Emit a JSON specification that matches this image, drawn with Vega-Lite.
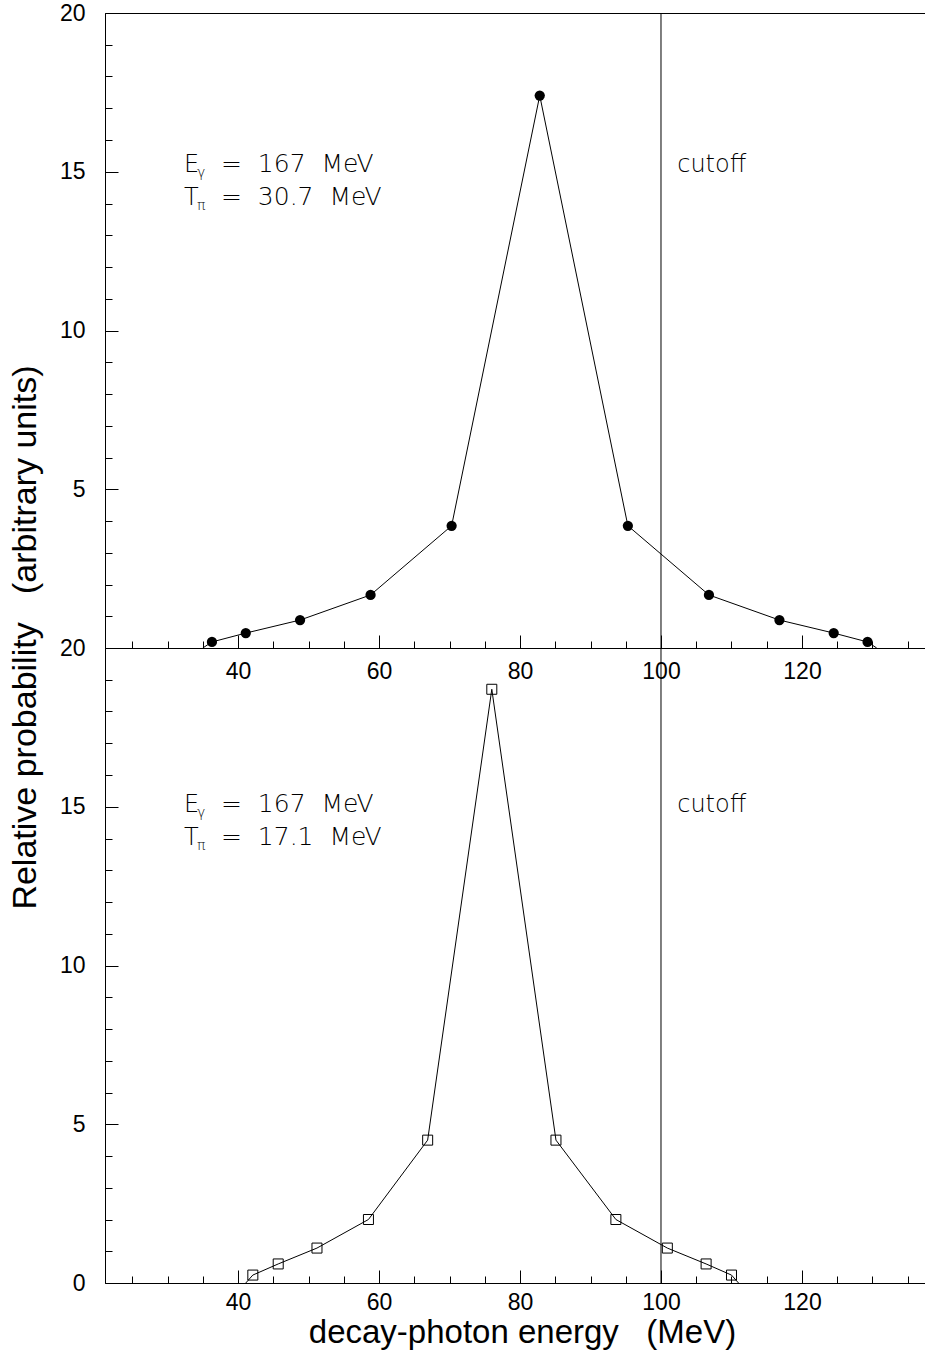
{
  "$schema": "https://vega.github.io/schema/vega-lite/v6.json",
  "padding": {"left": 8, "top": 2, "right": 0, "bottom": 5},
  "spacing": 0,
  "bounds": "flush",
  "background": "white",
  "config": {
    "view": {"stroke": null},
    "axis": {
      "grid": false,
      "domainColor": "black",
      "tickColor": "black",
      "labelColor": "black",
      "titleColor": "black",
      "labelFont": "Liberation Sans",
      "titleFont": "Liberation Sans",
      "labelFontSize": 23,
      "titleFontSize": 33,
      "titleFontWeight": "normal",
      "domainWidth": 1,
      "tickWidth": 1,
      "labelFlush": false,
      "labelOverlap": false
    }
  },
  "datasets": {
    "top": [
      {"energy": 35.0, "prob": 0, "kind": "end"},
      {"energy": 36.3, "prob": 0.19, "kind": "pt"},
      {"energy": 41.1, "prob": 0.47, "kind": "pt"},
      {"energy": 48.8, "prob": 0.88, "kind": "pt"},
      {"energy": 58.8, "prob": 1.67, "kind": "pt"},
      {"energy": 70.3, "prob": 3.85, "kind": "pt"},
      {"energy": 82.8, "prob": 17.4, "kind": "pt"},
      {"energy": 95.3, "prob": 3.85, "kind": "pt"},
      {"energy": 106.8, "prob": 1.67, "kind": "pt"},
      {"energy": 116.8, "prob": 0.88, "kind": "pt"},
      {"energy": 124.5, "prob": 0.47, "kind": "pt"},
      {"energy": 129.3, "prob": 0.19, "kind": "pt"},
      {"energy": 130.6, "prob": 0, "kind": "end"}
    ],
    "bottom": [
      {"energy": 41.1, "prob": 0, "kind": "end"},
      {"energy": 42.1, "prob": 0.25, "kind": "pt"},
      {"energy": 45.7, "prob": 0.6, "kind": "pt"},
      {"energy": 51.2, "prob": 1.1, "kind": "pt"},
      {"energy": 58.5, "prob": 2.0, "kind": "pt"},
      {"energy": 66.9, "prob": 4.5, "kind": "pt"},
      {"energy": 76.0, "prob": 18.7, "kind": "pt"},
      {"energy": 85.1, "prob": 4.5, "kind": "pt"},
      {"energy": 93.6, "prob": 2.0, "kind": "pt"},
      {"energy": 100.9, "prob": 1.1, "kind": "pt"},
      {"energy": 106.4, "prob": 0.6, "kind": "pt"},
      {"energy": 110.0, "prob": 0.25, "kind": "pt"},
      {"energy": 111.0, "prob": 0, "kind": "end"}
    ],
    "topNotes": [
      {"energy": 32.34, "prob": 15.0, "main": "E", "sub": "γ", "rest": "=\u00a0\u00a0167\u00a0\u00a0MeV"},
      {"energy": 32.34, "prob": 13.95, "main": "T", "sub": "π", "rest": "=\u00a0\u00a030.7\u00a0\u00a0MeV"},
      {"energy": 102.3, "prob": 15.0, "main": "cutoff", "sub": "", "rest": ""}
    ],
    "bottomNotes": [
      {"energy": 32.34, "prob": 14.85, "main": "E", "sub": "γ", "rest": "=\u00a0\u00a0167\u00a0\u00a0MeV"},
      {"energy": 32.34, "prob": 13.8, "main": "T", "sub": "π", "rest": "=\u00a0\u00a017.1\u00a0\u00a0MeV"},
      {"energy": 102.3, "prob": 14.85, "main": "cutoff", "sub": "", "rest": ""}
    ]
  },
  "vconcat": [
    {
      "width": 820,
      "height": 635,
      "resolve": {"axis": {"x": "independent", "y": "independent"}},
      "layer": [
        {
          "data": {"name": "top"},
          "mark": {"type": "line", "color": "black", "strokeWidth": 1},
          "encoding": {
            "x": {"field": "energy", "type": "quantitative",
              "scale": {"domain": [21.13, 137.45], "nice": false, "zero": false},
              "axis": {"orient": "bottom", "values": [40, 60, 80, 100, 120], "tickSize": -13, "labelPadding": 25, "labelBaseline": "top", "title": null}},
            "y": {"field": "prob", "type": "quantitative",
              "scale": {"domain": [0, 20], "nice": false, "zero": false},
              "axis": {"orient": "left", "values": [5, 10, 15, 20], "tickSize": -13, "labelPadding": 33, "labelBaseline": "middle",
                "title": "Relative probability\u00a0\u00a0\u00a0(arbitrary units)", "titleFontSize": 34, "titleX": -80, "titleY": 624, "titleAngle": -90, "titleAlign": "center", "titleBaseline": "middle"}},
            "order": {"field": "energy"}
          }
        },
        {
          "data": {"name": "top"},
          "transform": [{"filter": "datum.kind == 'pt'"}],
          "mark": {"type": "point", "shape": "circle", "filled": true, "color": "black", "size": 105, "opacity": 1},
          "encoding": {
            "x": {"field": "energy", "type": "quantitative",
              "axis": {"orient": "bottom", "values": [25, 30, 35, 40, 45, 50, 55, 60, 65, 70, 75, 80, 85, 90, 95, 100, 105, 110, 115, 120, 125, 130, 135], "tickSize": -7, "labels": false, "domain": false, "title": null}},
            "y": {"field": "prob", "type": "quantitative",
              "axis": {"orient": "left", "values": [0, 1, 2, 3, 4, 5, 6, 7, 8, 9, 10, 11, 12, 13, 14, 15, 16, 17, 18, 19, 20], "tickSize": -7, "labels": false, "domain": false, "title": null}}
          }
        },
        {
          "data": {"values": [{}]},
          "mark": {"type": "rule", "color": "black", "strokeWidth": 1},
          "encoding": {
            "x": {"datum": 100, "type": "quantitative",
              "axis": {"orient": "top", "ticks": false, "labels": false, "domain": true, "title": null}}
          }
        },
        {
          "data": {"name": "topNotes"},
          "mark": {"type": "text", "align": "left", "baseline": "alphabetic", "font": "DejaVu Sans", "fontSize": 24, "fontWeight": 200, "color": "black"},
          "encoding": {
            "x": {"field": "energy", "type": "quantitative", "axis": null},
            "y": {"field": "prob", "type": "quantitative", "axis": null},
            "text": {"field": "main"}
          }
        },
        {
          "data": {"name": "topNotes"},
          "mark": {"type": "text", "align": "left", "baseline": "alphabetic", "font": "DejaVu Sans", "fontSize": 14, "fontWeight": 200, "color": "black", "dx": 13, "dy": 5},
          "encoding": {
            "x": {"field": "energy", "type": "quantitative", "axis": null},
            "y": {"field": "prob", "type": "quantitative", "axis": null},
            "text": {"field": "sub"}
          }
        },
        {
          "data": {"name": "topNotes"},
          "mark": {"type": "text", "align": "left", "baseline": "alphabetic", "font": "DejaVu Sans", "fontSize": 25, "fontWeight": 200, "color": "black", "dx": 37},
          "encoding": {
            "x": {"field": "energy", "type": "quantitative", "axis": null},
            "y": {"field": "prob", "type": "quantitative", "axis": null},
            "text": {"field": "rest"}
          }
        }
      ]
    },
    {
      "width": 820,
      "height": 635,
      "resolve": {"axis": {"x": "independent", "y": "independent"}},
      "layer": [
        {
          "data": {"name": "bottom"},
          "mark": {"type": "line", "color": "black", "strokeWidth": 1},
          "encoding": {
            "x": {"field": "energy", "type": "quantitative",
              "scale": {"domain": [21.13, 137.45], "nice": false, "zero": false},
              "axis": {"orient": "bottom", "values": [40, 60, 80, 100, 120], "tickSize": -13, "labelPadding": 21, "labelBaseline": "top",
                "title": "decay-photon energy\u00a0\u00a0\u00a0(MeV)", "titleX": 417, "titleY": 49, "titleAlign": "center", "titleBaseline": "middle"}},
            "y": {"field": "prob", "type": "quantitative",
              "scale": {"domain": [0, 20], "nice": false, "zero": false},
              "axis": {"orient": "left", "values": [0, 5, 10, 15, 20], "tickSize": -13, "labelPadding": 33, "labelBaseline": "middle", "title": null}},
            "order": {"field": "energy"}
          }
        },
        {
          "data": {"name": "bottom"},
          "transform": [{"filter": "datum.kind == 'pt'"}],
          "mark": {"type": "point", "shape": "square", "filled": false, "color": "black", "size": 100, "strokeWidth": 1, "opacity": 1},
          "encoding": {
            "x": {"field": "energy", "type": "quantitative",
              "axis": {"orient": "bottom", "values": [25, 30, 35, 40, 45, 50, 55, 60, 65, 70, 75, 80, 85, 90, 95, 100, 105, 110, 115, 120, 125, 130, 135], "tickSize": -7, "labels": false, "domain": false, "title": null}},
            "y": {"field": "prob", "type": "quantitative",
              "axis": {"orient": "left", "values": [0, 1, 2, 3, 4, 5, 6, 7, 8, 9, 10, 11, 12, 13, 14, 15, 16, 17, 18, 19, 20], "tickSize": -7, "labels": false, "domain": false, "title": null}}
          }
        },
        {
          "data": {"values": [{}]},
          "mark": {"type": "rule", "color": "black", "strokeWidth": 1},
          "encoding": {
            "x": {"datum": 100, "type": "quantitative", "axis": null}
          }
        },
        {
          "data": {"name": "bottomNotes"},
          "mark": {"type": "text", "align": "left", "baseline": "alphabetic", "font": "DejaVu Sans", "fontSize": 24, "fontWeight": 200, "color": "black"},
          "encoding": {
            "x": {"field": "energy", "type": "quantitative", "axis": null},
            "y": {"field": "prob", "type": "quantitative", "axis": null},
            "text": {"field": "main"}
          }
        },
        {
          "data": {"name": "bottomNotes"},
          "mark": {"type": "text", "align": "left", "baseline": "alphabetic", "font": "DejaVu Sans", "fontSize": 14, "fontWeight": 200, "color": "black", "dx": 13, "dy": 5},
          "encoding": {
            "x": {"field": "energy", "type": "quantitative", "axis": null},
            "y": {"field": "prob", "type": "quantitative", "axis": null},
            "text": {"field": "sub"}
          }
        },
        {
          "data": {"name": "bottomNotes"},
          "mark": {"type": "text", "align": "left", "baseline": "alphabetic", "font": "DejaVu Sans", "fontSize": 25, "fontWeight": 200, "color": "black", "dx": 37},
          "encoding": {
            "x": {"field": "energy", "type": "quantitative", "axis": null},
            "y": {"field": "prob", "type": "quantitative", "axis": null},
            "text": {"field": "rest"}
          }
        }
      ]
    }
  ]
}
